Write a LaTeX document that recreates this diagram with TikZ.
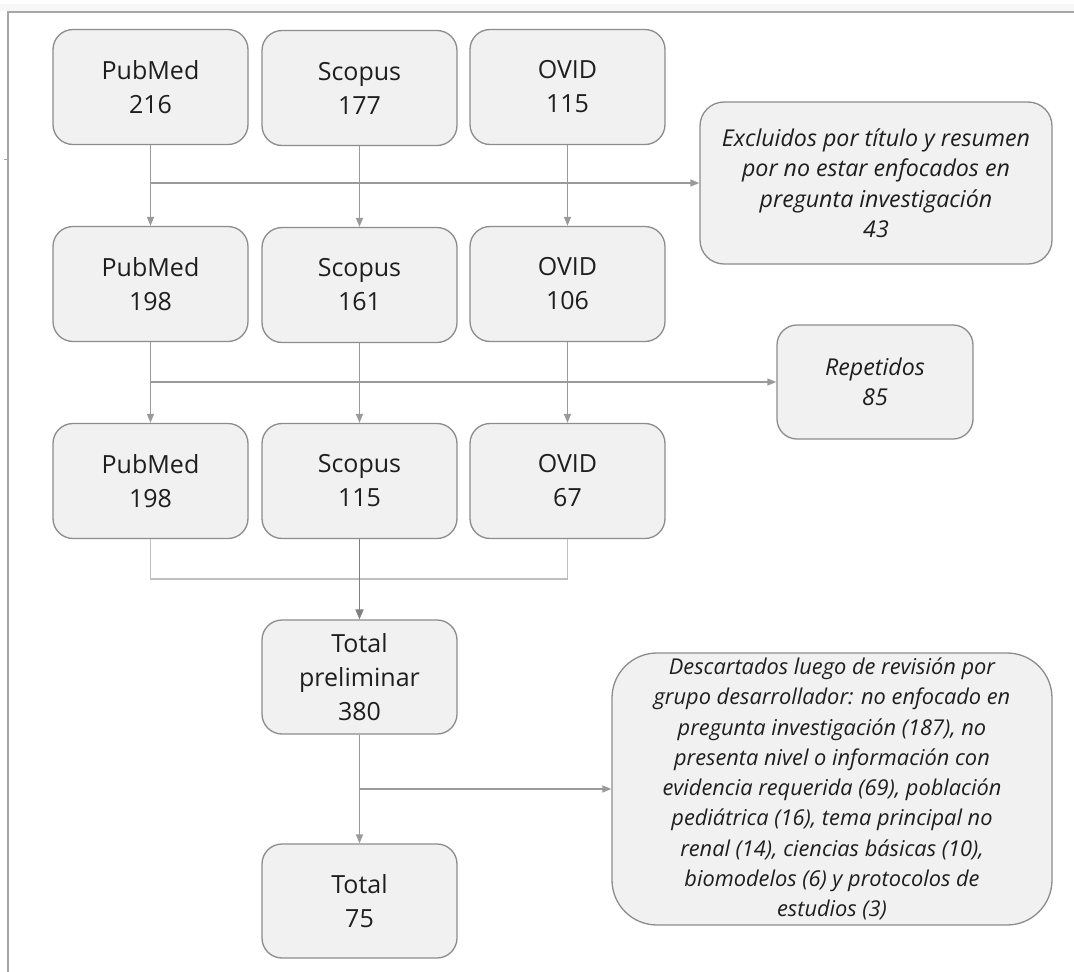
\documentclass[tikz,border=0pt]{standalone}
\usepackage{fontspec}
\setmainfont{Open Sans}
\usetikzlibrary{arrows.meta,calc}
\definecolor{boxfill}{HTML}{F1F1F1}
\definecolor{boxline}{HTML}{8C8C8C}
\definecolor{conn}{HTML}{9A9A9A}
\definecolor{txt}{HTML}{1E1E1E}
\tikzset{
  dbbox/.style={draw=boxline, fill=boxfill, line width=1.3pt, rounded corners=20pt,
    minimum width=195pt, minimum height=115pt, align=center, text=txt,
    font=\fontsize{25}{34}\selectfont, inner sep=0pt},
  notebox/.style={draw=boxline, fill=boxfill, line width=1.3pt, align=center, text=txt,
    font=\fontsize{23.2}{30.5}\selectfont\itshape, inner sep=0pt},
  longnote/.style={notebox, font=\fontsize{21.8}{30.3}\selectfont\itshape},
  link/.style={draw=conn, line width=1.3pt},
  arrowlink/.style={link, -{Triangle[length=9pt,width=7pt]}},
}
\begin{document}
\begin{tikzpicture}[x=1pt,y=-1pt]
\useasboundingbox (0,0) rectangle (1074,972);
% frame
\fill[fill=black!3] (0,4) rectangle (1074,11);
\draw[draw=black!35, line width=1.6pt] (8,972) -- (8,12) -- (1074,12);
\draw[draw=black!35, line width=1pt] (4,159) -- (8,159);
% row 1
\node[dbbox] (p1) at (150.5,87) {PubMed\\216};
\node[dbbox] (s1) at (359.5,88) {Scopus\\177};
\node[dbbox] (o1) at (567.5,87) {OVID\\115};
% row 2
\node[dbbox] (p2) at (150.5,284) {PubMed\\198};
\node[dbbox] (s2) at (359.5,285) {Scopus\\161};
\node[dbbox] (o2) at (567.5,284) {OVID\\106};
% row 3
\node[dbbox] (p3) at (150.5,481) {PubMed\\198};
\node[dbbox] (s3) at (359.5,481) {Scopus\\115};
\node[dbbox] (o3) at (567.5,481) {OVID\\67};
% totals
\node[dbbox, minimum height=114pt] (tp) at (359.5,677) {Total\\preliminar\\380};
\node[dbbox, minimum height=114pt] (tt) at (359.5,901) {Total\\75};
% side notes
\node[notebox, rounded corners=24pt, minimum width=352pt, minimum height=162pt] (ex) at (876,183)
  {Excluidos por título y resumen\\por no estar enfocados en\\pregunta investigación\\43};
\node[notebox, rounded corners=20pt, minimum width=196pt, minimum height=114pt] (rp) at (875,382)
  {Repetidos\\85};
\node[longnote, rounded corners=45pt, minimum width=440pt, minimum height=272pt] (ds) at (832,789)
  {Descartados luego de revisión por\\grupo desarrollador: no enfocado en\\pregunta investigación (187), no\\presenta nivel o información con\\evidencia requerida (69), población\\pediátrica (16), tema principal no\\renal (14), ciencias básicas (10),\\biomodelos (6) y protocolos de\\estudios (3)};
% row 1 -> row 2
\draw[arrowlink] (p1.south) -- (p2.north);
\draw[arrowlink] (s1.south) -- (s2.north);
\draw[arrowlink] (o1.south) -- (o2.north);
\draw[arrowlink] (p1.south |- ex.west) -- (ex.west);
% row 2 -> row 3
\draw[arrowlink] (p2.south) -- (p3.north);
\draw[arrowlink] (s2.south) -- (s3.north);
\draw[arrowlink] (o2.south) -- (o3.north);
\draw[arrowlink] (p2.south |- rp.west) -- (rp.west);
% merge
\coordinate (m) at (359.5,579);
\draw[link, draw=black!25] (p3.south) -- (p3.south |- m) -- (o3.south |- m) -- (o3.south);
\draw[link, draw=black!50, line width=1.8pt, -{Triangle[length=10pt,width=8pt]}] (s3.south) -- (tp.north);
% totals
\draw[arrowlink] (tp.south) -- (tt.north);
\draw[arrowlink] (tp.south |- ds.west) -- (ds.west);
\end{tikzpicture}
\end{document}
